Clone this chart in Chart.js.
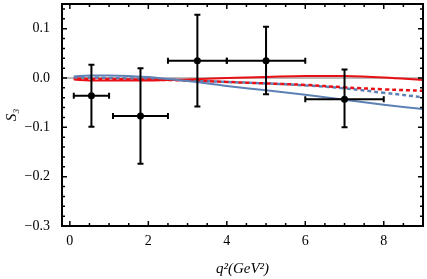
<!DOCTYPE html>
<html lang="en">
<head>
    <meta charset="UTF-8">
    <title>S3</title>
    <script src="https://cdn.jsdelivr.net/npm/chart.js@4.4.0/dist/chart.umd.min.js"></script>
    <style>
        html, body { margin: 0; padding: 0; background: #fff; }
        .container { width: 427px; height: 279px; }
    </style>
</head>
<body>
<div class="container">
    <canvas id="myChart" width="427" height="279"></canvas>
</div>
<script>
// measured bins (data points with error bars)
const binCenters = [0.55, 1.8, 3.25, 5.0, 7.0];
const binLow = [0.1, 1.1, 2.5, 4.0, 6.0];
const binHigh = [1.0, 2.5, 4.0, 6.0, 8.0];
const s3Values = [-0.036, -0.077, 0.035, 0.035, -0.043];
const s3Upper = [0.027, 0.020, 0.128, 0.104, 0.017];
const s3Lower = [-0.099, -0.174, -0.058, -0.033, -0.100];

// theory curves
const qGrid = [0.1, 0.5, 1, 1.5, 2, 2.5, 3, 4, 5, 6, 7, 8, 9];
const blueSolid = [0.003, 0.005, 0.005, 0.004, 0.002, -0.002, -0.006, -0.016, -0.025, -0.034, -0.044, -0.054, -0.063];
const redSolid = [-0.003, -0.005, -0.005, -0.005, -0.005, -0.004, -0.003, 0.000, 0.002, 0.004, 0.004, 0.001, -0.004];
const redDashed = [-0.001, -0.002, -0.002, -0.003, -0.003, -0.004, -0.005, -0.008, -0.011, -0.014, -0.019, -0.023, -0.026];
const blueDashed = [0.001, 0.001, 0.000, -0.001, -0.002, -0.003, -0.005, -0.008, -0.011, -0.015, -0.021, -0.030, -0.039];

const xTicks = [0, 2, 4, 6, 8];
const yTicks = [-0.3, -0.2, -0.1, 0.0, 0.1];

const RED = 'rgb(232, 16, 20)';
const BLUE = 'rgb(94, 129, 181)';

function pts(ys) {
    return qGrid.map(function (x, i) { return {x: x, y: ys[i]}; });
}

function fmtY(v) {
    var s = Math.abs(v).toFixed(1);
    return v < -1e-9 ? '\u2212' + s : s;
}

var framePlugin = {
    id: 'frame',
    beforeDatasetsDraw: function (chart) {
        var c = chart.ctx, a = chart.chartArea, ys = chart.scales.y;
        var y0 = ys.getPixelForValue(0);
        c.save();
        c.strokeStyle = '#777';
        c.lineWidth = 1;
        c.beginPath();
        c.moveTo(a.left, y0);
        c.lineTo(a.right, y0);
        c.stroke();
        c.restore();
    },
    afterDatasetsDraw: function (chart) {
        var c = chart.ctx, a = chart.chartArea;
        var xs = chart.scales.x, ys = chart.scales.y;
        c.save();
        c.strokeStyle = '#000';
        c.lineWidth = 2;
        // error bars
        for (var i = 0; i < binCenters.length; i++) {
            var px = xs.getPixelForValue(binCenters[i]);
            var py = ys.getPixelForValue(s3Values[i]);
            var x1 = xs.getPixelForValue(binLow[i]), x2 = xs.getPixelForValue(binHigh[i]);
            var yt = ys.getPixelForValue(s3Upper[i]), yb = ys.getPixelForValue(s3Lower[i]);
            c.beginPath();
            c.moveTo(x1, py); c.lineTo(x2, py);
            c.moveTo(x1, py - 3); c.lineTo(x1, py + 3);
            c.moveTo(x2, py - 3); c.lineTo(x2, py + 3);
            c.moveTo(px, yt); c.lineTo(px, yb);
            c.moveTo(px - 3, yt); c.lineTo(px + 3, yt);
            c.moveTo(px - 3, yb); c.lineTo(px + 3, yb);
            c.stroke();
        }
        // frame
        c.strokeRect(a.left, a.top, a.right - a.left, a.bottom - a.top);
        // inward ticks
        c.lineWidth = 1.5;
        c.beginPath();
        for (var k = 0; k <= 18; k++) {
            var xp = xs.getPixelForValue(k * 0.5);
            var len = (k % 4 === 0) ? 5 : 3;
            c.moveTo(xp, a.bottom); c.lineTo(xp, a.bottom - len);
            c.moveTo(xp, a.top); c.lineTo(xp, a.top + len);
        }
        for (var j = 0; j <= 22; j++) {
            var yp = ys.getPixelForValue(-0.3 + j * 0.02);
            var l2 = (j % 5 === 0) ? 5 : 3;
            c.moveTo(a.left, yp); c.lineTo(a.left + l2, yp);
            c.moveTo(a.right, yp); c.lineTo(a.right - l2, yp);
        }
        c.stroke();
        c.restore();
    }
};

var ctx = document.getElementById('myChart');
var myChart = new Chart(ctx, {
    type: 'line',
    data: {
        datasets: [
            {
                label: 'blue dashed',
                data: pts(blueDashed),
                borderColor: BLUE,
                borderWidth: 2.5,
                borderDash: [4, 3],
                pointRadius: 0,
                tension: 0.4,
                order: 4
            },
            {
                label: 'red dashed',
                data: pts(redDashed),
                borderColor: RED,
                borderWidth: 2.5,
                borderDash: [4, 3],
                borderDashOffset: 3.5,
                pointRadius: 0,
                tension: 0.4,
                order: 3
            },
            {
                label: 'red solid',
                data: pts(redSolid),
                borderColor: RED,
                borderWidth: 2,
                pointRadius: 0,
                tension: 0.4,
                order: 2
            },
            {
                label: 'blue solid',
                data: pts(blueSolid),
                borderColor: BLUE,
                borderWidth: 2,
                pointRadius: 0,
                tension: 0.4,
                order: 1
            },
            {
                label: 'data',
                data: binCenters.map(function (x, i) { return {x: x, y: s3Values[i]}; }),
                showLine: false,
                pointRadius: 3.5,
                pointBackgroundColor: '#000',
                pointBorderColor: '#000',
                pointBorderWidth: 0,
                order: 0
            }
        ]
    },
    options: {
        responsive: false,
        animation: false,
        layout: { padding: { top: 1, right: 2, left: 0, bottom: 0 } },
        plugins: {
            legend: { display: false },
            tooltip: { enabled: false }
        },
        scales: {
            x: {
                type: 'linear',
                min: -0.2,
                max: 9,
                afterBuildTicks: function (scale) {
                    scale.ticks = xTicks.map(function (v) { return {value: v}; });
                },
                afterFit: function (scale) {
                    scale.height = 53;
                    scale.paddingLeft = 0;
                    scale.paddingRight = 0;
                },
                grid: { display: false, drawTicks: false },
                border: { display: false },
                ticks: {
                    padding: 7,
                    maxRotation: 0,
                    color: '#000',
                    font: { family: '"Liberation Serif", serif', size: 14 },
                    callback: function (v) { return String(v); }
                },
                title: {
                    display: true,
                    text: 'q\u00B2(GeV\u00B2)',
                    color: '#000',
                    padding: { top: 0, bottom: 1 },
                    font: { family: '"Liberation Serif", serif', size: 15, style: 'italic' }
                }
            },
            y: {
                type: 'linear',
                min: -0.3,
                max: 0.15,
                afterBuildTicks: function (scale) {
                    scale.ticks = yTicks.map(function (v) { return {value: v}; });
                },
                afterFit: function (scale) {
                    scale.width = 62;
                    scale.paddingTop = 0;
                    scale.paddingBottom = 0;
                },
                grid: { display: false, drawTicks: false },
                border: { display: false },
                ticks: {
                    padding: 12,
                    color: '#000',
                    font: { family: '"Liberation Serif", serif', size: 14 },
                    callback: function (v) { return fmtY(v); }
                },
                title: {
                    display: true,
                    text: 'S\u2083',
                    color: '#000',
                    padding: { top: 3, bottom: 0 },
                    font: { family: '"Liberation Serif", serif', size: 15, style: 'italic' }
                }
            }
        }
    },
    plugins: [framePlugin]
});
</script>
</body>
</html>
